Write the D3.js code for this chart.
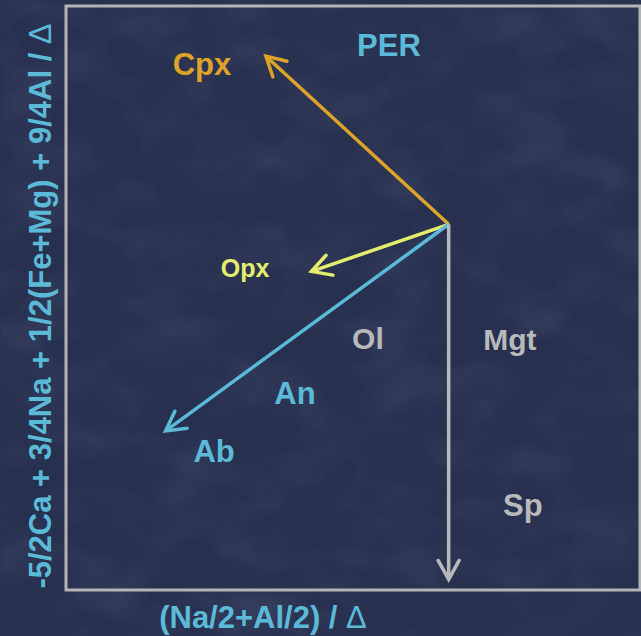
<!DOCTYPE html>
<html>
<head>
<meta charset="utf-8">
<script src="https://cdn.jsdelivr.net/npm/d3@7/dist/d3.min.js"></script>
<style>
  html, body { margin: 0; padding: 0; background: #293052; }
  svg { display: block; }
</style>
</head>
<body>
<div id="chart"></div>
<script>
// Reaction vectors from the peridotite (PER) origin, in diagram units
const vectorNames = ["Cpx", "Opx", "Ab", "Mgt"];
const vectorDx = [-0.955, -0.717, -1.479, 0];
const vectorDy = [0.878, -0.246, -1.079, -1.855];
const vectorColors = ["#dda427", "#e4ee6c", "#5bbad7", "#b9b9bb"];

// Phase labels and where they sit in diagram units
const labelNames = ["PER", "Cpx", "Opx", "Ol", "Mgt", "An", "Ab", "Sp"];
const labelX = [-0.312, -1.289, -1.064, -0.422, 0.320, -0.803, -1.226, 0.388];
const labelY = [0.878, 0.779, -0.277, -0.653, -0.659, -0.941, -1.244, -1.521];
const labelColors = ["#5bbad7", "#dda427", "#e4ee6c", "#b9b9bb", "#b9b9bb", "#5bbad7", "#5bbad7", "#b9b9bb"];
const labelSizes = [31, 31, 25, 30, 30, 31, 31, 31];

const xDomain = [-2, 1];
const yDomain = [-1.91, 1.14];
const xTitle = "(Na/2+Al/2) / ";
const yTitle = "-5/2Ca + 3/4Na + 1/2(Fe+Mg) + 9/4Al / ";

const W = 641, H = 636;
const frame = { left: 66, right: 640, top: 6, bottom: 590 };
const font = "'Liberation Sans', Arial, Helvetica, sans-serif";

const svg = d3.select("#chart").append("svg")
  .attr("width", W).attr("height", H);

const defs = svg.append("defs");

// mottled backdrop
const tex = defs.append("filter").attr("id", "mottle")
  .attr("x", 0).attr("y", 0).attr("width", "100%").attr("height", "100%");
tex.append("feTurbulence").attr("type", "fractalNoise")
  .attr("baseFrequency", "0.014 0.022").attr("numOctaves", 3).attr("seed", 7);
tex.append("feColorMatrix").attr("type", "matrix")
  .attr("values", "0 0 0 0 0.55  0 0 0 0 0.6  0 0 0 0 0.8  1.1 0 0 0 -0.45");
tex.append("feGaussianBlur").attr("stdDeviation", 1.5);

svg.append("rect").attr("width", W).attr("height", H).attr("fill", "#283050");
svg.append("rect").attr("width", W).attr("height", H)
  .attr("filter", "url(#mottle)").attr("opacity", 0.16);

const x = d3.scaleLinear().domain(xDomain).range([frame.left, frame.right]);
const y = d3.scaleLinear().domain(yDomain).range([frame.bottom, frame.top]);

// plot frame
svg.append("rect")
  .attr("x", frame.left).attr("y", frame.top)
  .attr("width", frame.right - frame.left).attr("height", frame.bottom - frame.top)
  .attr("fill", "none").attr("stroke", "#b4b4b6").attr("stroke-width", 3);

// arrowheads, one per colour
vectorNames.forEach((n, i) => {
  defs.append("marker")
    .attr("id", "head-" + n)
    .attr("viewBox", "-24 -14 28 28")
    .attr("refX", 0).attr("refY", 0)
    .attr("markerWidth", 28).attr("markerHeight", 28)
    .attr("markerUnits", "userSpaceOnUse")
    .attr("orient", "auto")
    .append("path")
    .attr("d", "M-19,-10.5 L0,0 L-19,10.5")
    .attr("fill", "none")
    .attr("stroke", vectorColors[i])
    .attr("stroke-width", 3.5)
    .attr("stroke-linecap", "round")
    .attr("stroke-linejoin", "miter");
});

const vectors = vectorNames.map((n, i) => ({ name: n, dx: vectorDx[i], dy: vectorDy[i], color: vectorColors[i] }));

svg.append("g").selectAll("line")
  .data(vectors)
  .join("line")
  .attr("x1", x(0)).attr("y1", y(0))
  .attr("x2", d => x(d.dx)).attr("y2", d => y(d.dy))
  .attr("stroke", d => d.color)
  .attr("stroke-width", 3.5)
  .attr("marker-end", d => "url(#head-" + d.name + ")");

// phase labels
const labels = labelNames.map((n, i) => ({ name: n, x: labelX[i], y: labelY[i], color: labelColors[i], size: labelSizes[i] }));
svg.append("g").selectAll("text")
  .data(labels)
  .join("text")
  .attr("x", d => x(d.x)).attr("y", d => y(d.y))
  .attr("text-anchor", "middle")
  .attr("font-family", font)
  .attr("font-weight", "bold")
  .attr("font-size", d => d.size)
  .attr("fill", d => d.color)
  .text(d => d.name);

// axis titles
const xt = svg.append("text")
  .attr("x", 263).attr("y", 628)
  .attr("text-anchor", "middle")
  .attr("font-family", font).attr("font-weight", "bold").attr("font-size", 31)
  .attr("fill", "#5bbad7");
xt.append("tspan").text(xTitle);
xt.append("tspan").attr("font-weight", "normal").text("\u0394");

const yt = svg.append("text")
  .attr("transform", "translate(51,306) rotate(-90)")
  .attr("text-anchor", "middle")
  .attr("font-family", font).attr("font-weight", "bold").attr("font-size", 31)
  .attr("fill", "#5bbad7");
yt.append("tspan").text(yTitle);
yt.append("tspan").attr("font-weight", "normal").text("\u0394");
</script>
</body>
</html>
